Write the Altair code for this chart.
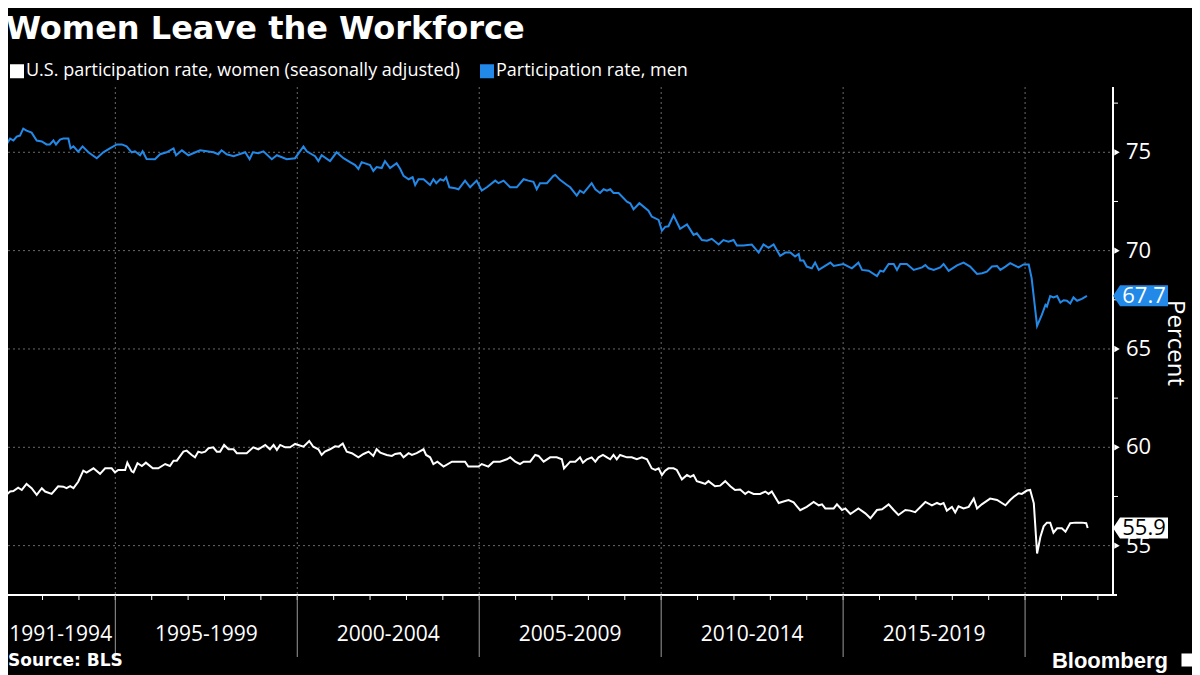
import altair as alt
import pandas as pd

# ---------------- data ----------------
men_year = [1991.83, 1992.01, 1992.11, 1992.20, 1992.29, 1992.38, 1992.47, 1992.56, 1992.70, 1992.84,
            1992.98, 1993.11, 1993.20, 1993.30, 1993.37, 1993.48, 1993.57, 1993.71, 1993.77, 1993.85,
            1993.98, 1994.10, 1994.26, 1994.49, 1994.67, 1994.85, 1995.04, 1995.18, 1995.31, 1995.45,
            1995.54, 1995.68, 1995.75, 1995.86, 1996.09, 1996.23, 1996.41, 1996.60, 1996.67, 1996.83,
            1997.01, 1997.33, 1997.70, 1997.83, 1997.92, 1998.06, 1998.25, 1998.57, 1998.69, 1998.78,
            1998.93, 1999.07, 1999.30, 1999.44, 1999.71, 1999.94, 2000.17, 2000.26, 2000.49, 2000.58,
            2000.67, 2000.90, 2001.08, 2001.27, 2001.45, 2001.59, 2001.68, 2001.77, 2002.00, 2002.09,
            2002.18, 2002.32, 2002.41, 2002.55, 2002.73, 2002.83,
            2002.92, 2003.06, 2003.17, 2003.24, 2003.33, 2003.47, 2003.65, 2003.74, 2003.82, 2003.93,
            2004.02, 2004.09, 2004.18, 2004.34, 2004.43, 2004.61, 2004.75, 2004.93, 2005.07, 2005.21,
            2005.44, 2005.53, 2005.67, 2005.85, 2006.03, 2006.22, 2006.35, 2006.49, 2006.58, 2006.67,
            2006.86, 2007.04, 2007.09, 2007.22, 2007.41, 2007.50, 2007.68, 2007.77, 2007.87, 2008.09,
            2008.19, 2008.32, 2008.42, 2008.51, 2008.60, 2008.69, 2008.83, 2009.06, 2009.15, 2009.24,
            2009.40, 2009.65, 2009.74, 2009.93, 2010.02, 2010.11, 2010.20, 2010.34, 2010.52, 2010.71,
            2010.89, 2010.98, 2011.12, 2011.26, 2011.39, 2011.58, 2011.71, 2011.85, 2011.99, 2012.08,
            2012.26, 2012.49, 2012.68, 2012.81, 2012.95, 2013.09, 2013.27, 2013.41, 2013.55, 2013.68,
            2013.78, 2013.82,
            2013.91, 2014.00, 2014.14, 2014.23, 2014.33, 2014.65, 2014.74, 2015.01, 2015.24, 2015.42,
            2015.52, 2015.70, 2015.93, 2016.02, 2016.11, 2016.25, 2016.39, 2016.48, 2016.57, 2016.75,
            2016.94, 2017.17, 2017.26, 2017.35, 2017.49, 2017.67, 2017.76, 2017.90, 2018.13, 2018.31,
            2018.49, 2018.68, 2018.82, 2018.95, 2019.09, 2019.23, 2019.32, 2019.46, 2019.59, 2019.82,
            2019.96, 2020.10, 2020.18, 2020.33, 2020.46, 2020.56, 2020.60, 2020.69, 2020.78, 2020.88,
            2020.97, 2021.06, 2021.15, 2021.24, 2021.33, 2021.43, 2021.56, 2021.70]
men_val = [75.6, 75.4, 75.7, 75.6, 75.8, 75.85, 76.2, 76.1, 76.0, 75.6,
           75.55, 75.4, 75.4, 75.6, 75.4, 75.65, 75.7, 75.7, 75.2, 75.3,
           75.03, 75.3, 75.0, 74.7, 75.0, 75.2, 75.4, 75.4, 75.3, 75.0,
           75.05, 74.85, 75.05, 74.66, 74.65, 74.9, 75.0, 75.2, 74.85, 75.1,
           74.85, 75.1, 75.0, 74.9, 75.1, 74.9, 74.8, 75.0, 74.65, 75.0,
           74.95, 75.05, 74.65, 74.85, 74.65, 74.7, 75.3, 75.05, 74.8, 74.55,
           74.85, 74.55, 75.0, 74.7, 74.5, 74.35, 74.15, 74.5, 74.35, 74.05,
           74.25, 74.2, 74.55, 74.2, 74.45, 74.15,
           73.8, 73.63, 73.73, 73.34, 73.63, 73.63, 73.34, 73.63, 73.43, 73.63,
           73.56, 73.73, 73.22, 73.17, 73.12, 73.56, 73.22, 73.56, 73.05, 73.22,
           73.56, 73.43, 73.56, 73.22, 73.22, 73.63, 73.56, 73.5, 73.12, 73.43,
           73.43, 73.8, 73.85, 73.6, 73.34, 73.22, 72.8, 73.05, 72.93, 73.43,
           73.12, 72.93, 73.12, 73.05, 73.12, 72.93, 72.93, 72.49, 72.41, 72.1,
           72.41, 72.03, 71.73, 71.56, 71.01, 71.21, 71.24, 71.79, 71.11, 71.33,
           70.8, 70.88, 70.54, 70.5, 70.6, 70.31, 70.54, 70.46, 70.54, 70.26,
           70.26, 70.31, 69.9, 70.31, 70.14, 70.31, 69.73, 69.9, 69.9, 69.7,
           69.83, 69.5,
           69.5, 69.19, 69.1, 69.39, 69.02, 69.39, 69.22, 69.32, 69.1, 69.39,
           69.02, 68.98, 68.71, 68.98, 68.93, 69.32, 69.32, 69.02, 69.32, 69.32,
           69.02, 69.15, 69.27, 69.1, 69.02, 69.15, 69.32, 68.97, 69.25, 69.39,
           69.19, 68.81, 68.85, 68.93, 69.19, 69.22, 69.02, 69.19, 69.36, 69.15,
           69.3, 69.29, 68.6, 66.17, 66.73, 67.24, 67.16, 67.69, 67.62, 67.69,
           67.36, 67.48, 67.45, 67.31, 67.62, 67.45, 67.55, 67.7]

women_year = [1991.83, 1991.97, 1992.11, 1992.20, 1992.33, 1992.43, 1992.56, 1992.70, 1992.84, 1992.98,
              1993.07, 1993.25, 1993.43, 1993.57, 1993.66, 1993.76, 1993.85, 1993.98, 1994.12, 1994.21,
              1994.40, 1994.58, 1994.72, 1994.90, 1994.99, 1995.08, 1995.27, 1995.33, 1995.45, 1995.50,
              1995.61, 1995.73, 1995.84, 1996.03, 1996.18, 1996.37, 1996.50, 1996.60, 1996.69, 1996.87,
              1996.96, 1997.10, 1997.19, 1997.28, 1997.37, 1997.47, 1997.56, 1997.69, 1997.79, 1997.88,
              1997.99, 1998.11, 1998.25, 1998.34, 1998.61, 1998.79, 1998.93, 1999.12, 1999.25, 1999.35,
              1999.44, 1999.53, 1999.67, 1999.80, 1999.94, 2000.17, 2000.33, 2000.44, 2000.58, 2000.67,
              2000.76, 2000.90, 2001.04, 2001.13, 2001.25, 2001.36, 2001.50, 2001.68, 2001.82, 2001.96,
              2002.09, 2002.18, 2002.28, 2002.46, 2002.60, 2002.69, 2002.83,
              2002.92, 2003.06, 2003.15, 2003.28, 2003.47, 2003.54, 2003.65, 2003.74, 2003.85, 2004.02,
              2004.25, 2004.43, 2004.61, 2004.70, 2004.98, 2005.07, 2005.25, 2005.39, 2005.57, 2005.76,
              2005.85, 2005.99, 2006.12, 2006.22, 2006.40, 2006.54, 2006.63, 2006.77, 2006.95, 2007.13,
              2007.27, 2007.33, 2007.50, 2007.64, 2007.77, 2007.85, 2007.96, 2008.09, 2008.19, 2008.28,
              2008.40, 2008.51, 2008.60, 2008.69, 2008.78, 2008.87, 2009.06, 2009.19, 2009.33, 2009.47,
              2009.61, 2009.74, 2009.84, 2009.93, 2010.02, 2010.11, 2010.20, 2010.34, 2010.43, 2010.57,
              2010.71, 2010.80, 2010.89, 2010.98, 2011.12, 2011.21, 2011.30, 2011.48, 2011.62, 2011.76,
              2011.90, 2012.03, 2012.17, 2012.31, 2012.40, 2012.54, 2012.72, 2012.86, 2012.95, 2013.04,
              2013.23, 2013.36, 2013.50, 2013.64, 2013.73, 2013.82,
              2014.00, 2014.19, 2014.33, 2014.42, 2014.51, 2014.74, 2014.83, 2014.97, 2015.06, 2015.20,
              2015.42, 2015.61, 2015.75, 2015.93, 2016.07, 2016.25, 2016.39, 2016.52, 2016.71, 2016.84,
              2016.98, 2017.26, 2017.44, 2017.58, 2017.67, 2017.76, 2017.85, 2017.99, 2018.08, 2018.17,
              2018.31, 2018.45, 2018.59, 2018.68, 2018.81, 2019.04, 2019.23, 2019.46, 2019.59, 2019.69,
              2019.82, 2019.91, 2020.05, 2020.14, 2020.24, 2020.33, 2020.42, 2020.51, 2020.60, 2020.69,
              2020.78, 2020.88, 2021.01, 2021.11, 2021.24, 2021.38, 2021.56, 2021.68, 2021.72]
women_val = [57.53, 57.53, 57.75, 57.78, 57.95, 57.83, 58.14, 57.92, 57.58, 57.92,
             57.75, 57.63, 58.02, 58.0, 57.92, 58.02, 57.92, 58.25, 58.81, 58.71,
             58.93, 58.65, 58.93, 58.93, 58.73, 58.85, 58.85, 59.22, 58.78, 58.73,
             59.19, 59.05, 59.22, 58.93, 58.93, 59.15, 59.05, 59.32, 59.32, 59.78,
             59.83, 59.61, 59.49, 59.78, 59.73, 59.78, 59.95, 60.0, 59.78, 59.78,
             60.12, 59.9, 59.9, 59.7, 59.7, 60.0, 59.9, 60.12, 59.9, 60.12,
             59.87, 60.12, 60.0, 60.0, 60.17, 60.03, 60.32, 60.03, 59.9, 59.61,
             59.78, 59.9, 60.05, 60.03, 60.19, 59.78, 59.7, 59.49, 59.66, 59.78,
             59.56, 59.9, 59.73, 59.61, 59.56, 59.66, 59.7,
             59.49, 59.7, 59.61, 59.7, 59.9, 59.61, 59.49, 59.15, 59.27, 59.02,
             59.27, 59.27, 59.27, 59.02, 59.02, 59.15, 59.02, 59.27, 59.27, 59.39,
             59.49, 59.27, 59.15, 59.27, 59.27, 59.61, 59.56, 59.27, 59.49, 59.49,
             59.39, 58.93, 59.27, 59.27, 59.49, 59.22, 59.39, 59.49, 59.27, 59.49,
             59.61, 59.49, 59.39, 59.61, 59.39, 59.61, 59.49, 59.49, 59.39, 59.49,
             59.39, 58.93, 58.85, 58.93, 58.59, 58.81, 58.93, 58.93, 58.85, 58.37,
             58.59, 58.5, 58.59, 58.28, 58.2, 58.14, 58.28, 58.02, 58.05, 58.28,
             58.02, 57.83, 57.85, 57.63, 57.75, 57.63, 57.63, 57.75, 57.63, 57.75,
             57.17, 57.24, 57.32, 57.2, 57.0, 56.8,
             56.97, 57.22, 57.05, 57.1, 56.89, 56.89, 57.1, 56.81, 56.89, 56.61,
             56.89, 56.64, 56.39, 56.81, 56.85, 57.1, 56.81, 56.56, 56.81, 56.78,
             56.7, 57.22, 57.05, 57.17, 57.1, 57.17, 56.78, 56.97, 56.69, 57.0,
             56.89, 56.97, 57.39, 56.89, 57.1, 57.39, 57.32, 57.05, 57.32, 57.49,
             57.66, 57.63, 57.8, 57.83, 57.15, 54.6, 55.44, 55.98, 56.17, 56.17,
             55.66, 55.88, 55.88, 55.71, 56.14, 56.17, 56.17, 56.14, 55.9]

period_labels = ["1991-1994", "1995-1999", "2000-2004", "2005-2009", "2010-2014", "2015-2019"]
period_mid = [1993.5, 1997.5, 2002.5, 2007.5, 2012.5, 2017.5]
period_bounds = [1995, 2000, 2005, 2010, 2015, 2020]
year_ticks = list(range(1992, 2023))
y_major = [55, 60, 65, 70, 75]
y_minor = [57.5, 62.5, 67.5, 72.5, 77.5]

WOMEN = "U.S. participation rate, women (seasonally adjusted)"
MEN = "Participation rate, men"
BLUE = "#2389e8"

# ---------------- layout ----------------
W, H = 1105, 508
X0, X1 = 1992.051, 2022.416
Y0, Y1 = 52.49, 78.32
FONT = "Open Sans"
GRID = "#6a6a6a"

df = pd.concat([
    pd.DataFrame({"year": women_year, "value": women_val, "series": WOMEN}),
    pd.DataFrame({"year": men_year, "value": men_val, "series": MEN}),
], ignore_index=True)

xs = alt.Scale(domain=[X0, X1], nice=False, zero=False)
ys = alt.Scale(domain=[Y0, Y1], nice=False, zero=False)

# horizontal dashed gridlines (y scale)
hgrid = alt.Chart(pd.DataFrame({"v": y_major})).mark_rule(
    color=GRID, strokeDash=[2, 3], strokeWidth=1
).encode(y=alt.Y("v:Q", scale=ys, axis=None), x=alt.value(0), x2=alt.value(W))

# vertical dashed gridlines at period boundaries (x scale)
vgrid = alt.Chart(pd.DataFrame({"year": period_bounds})).mark_rule(
    color=GRID, strokeDash=[2, 3], strokeWidth=1
).encode(x=alt.X("year:Q", scale=xs, axis=None), y=alt.value(0), y2=alt.value(H))

lines = alt.Chart(df).mark_line(strokeWidth=2, clip=True).encode(
    x=alt.X("year:Q", scale=xs, axis=None),
    y=alt.Y("value:Q", scale=ys, axis=None),
    color=alt.Color("series:N", scale=alt.Scale(domain=[WOMEN, MEN], range=["#ffffff", BLUE]),
                    legend=alt.Legend(title=None, orient="none", legendX=0, legendY=-25,
                                      direction="horizontal", symbolType="square", symbolSize=25,
                                      symbolStrokeWidth=9, labelColor="#ffffff", labelFontSize=18,
                                      labelFont=FONT, labelLimit=1000, columnPadding=6,
                                      labelOffset=0)),
)

# x axis: baseline, yearly ticks, period separators and labels
x_base = alt.Chart(pd.DataFrame({"year": [X0]})).mark_rule(color="#ffffff", strokeWidth=2).encode(
    x=alt.value(0), x2=alt.value(W + 4), y=alt.value(H))
x_ticks = alt.Chart(pd.DataFrame({"year": year_ticks})).mark_rule(color="#ffffff", strokeWidth=1).encode(
    x=alt.X("year:Q", scale=xs, axis=None), y=alt.value(H), y2=alt.value(H + 5))
vbelow = alt.Chart(pd.DataFrame({"year": period_bounds})).mark_rule(
    color="#9a9a9a", strokeWidth=1
).encode(x=alt.X("year:Q", scale=xs, axis=None), y=alt.value(H), y2=alt.value(H + 62))
periods = alt.Chart(pd.DataFrame({"mid": period_mid, "label": period_labels})).mark_text(
    color="#ffffff", fontSize=21, font=FONT, baseline="middle", align="center"
).encode(x=alt.X("mid:Q", scale=xs, axis=None), y=alt.value(H + 40), text="label:N")

# y axis (right): line, pointer ticks, minor ticks, labels, title
y_base = alt.Chart(pd.DataFrame({"v": [Y0]})).mark_rule(color="#ffffff", strokeWidth=2).encode(
    x=alt.value(W), y=alt.value(0), y2=alt.value(H))
tri = alt.Chart(pd.DataFrame({"v": y_major})).mark_point(
    shape="triangle-right", filled=True, size=40, color="#ffffff", opacity=1
).encode(x=alt.value(W + 4), y=alt.Y("v:Q", scale=ys, axis=None))
minor = alt.Chart(pd.DataFrame({"v": y_minor})).mark_rule(color="#ffffff", strokeWidth=1).encode(
    x=alt.value(W), x2=alt.value(W + 5), y=alt.Y("v:Q", scale=ys, axis=None))
y_labels = alt.Chart(pd.DataFrame({"v": y_major})).mark_text(
    color="#ffffff", fontSize=22, font=FONT, align="left", baseline="middle"
).encode(x=alt.value(W + 13), y=alt.Y("v:Q", scale=ys, axis=None), text=alt.Text("v:Q", format="d"))
y_title = alt.Chart(pd.DataFrame({"t": ["Percent"]})).mark_text(
    color="#ffffff", fontSize=24, font=FONT, angle=90, align="center", baseline="middle"
).encode(x=alt.value(W + 62), y=alt.value(256), text="t:N")

BOX = "M -1 0 L -0.745 -0.382 L 1 -0.382 L 1 0.382 L -0.745 0.382 Z"


def end_label(val, fill, tcolor):
    d = pd.DataFrame({"v": [val], "t": [f"{val:.1f}"]})
    box = alt.Chart(d).mark_point(shape=BOX, filled=True, size=3025, color=fill, opacity=1,
                                  strokeWidth=0).encode(
        x=alt.value(W + 27.5), y=alt.Y("v:Q", scale=ys, axis=None))
    txt = alt.Chart(d).mark_text(color=tcolor, fontSize=22, font=FONT, align="center",
                                 baseline="middle").encode(
        x=alt.value(W + 31), y=alt.Y("v:Q", scale=ys, axis=None), text="t:N")
    return [box, txt]


men_end = end_label(men_val[-1], BLUE, "#ffffff")
women_end = end_label(women_val[-1], "#ffffff", "#000000")

source = alt.Chart(pd.DataFrame({"t": ["Source: BLS"]})).mark_text(
    color="#ffffff", fontSize=17, font="DejaVu Sans", fontWeight="bold", align="left", baseline="middle"
).encode(x=alt.value(0), y=alt.value(H + 66), text="t:N")

brand = alt.Chart(pd.DataFrame({"t": ["Bloomberg"]})).mark_text(
    color="#ffffff", fontSize=22, font="Liberation Sans", fontWeight="bold", align="right",
    baseline="middle"
).encode(x=alt.value(W + 55), y=alt.value(H + 66), text="t:N")

icon = alt.Chart(pd.DataFrame({"t": ["Bloomberg"]})).mark_point(
    shape="square", filled=True, size=170, color="#ffffff", opacity=1
).encode(x=alt.value(W + 75), y=alt.value(H + 65))

chart = alt.layer(
    hgrid, vgrid, lines, x_base, x_ticks, vbelow, periods, y_base, minor, tri, y_labels, y_title,
    *men_end, *women_end, source, brand, icon
).properties(
    width=W, height=H,
    title=alt.TitleParams("Women Leave the Workforce", anchor="start", fontSize=32, font="DejaVu Sans",
                          fontWeight="bold", color="#ffffff", offset=16),
    padding={"left": 0, "top": 79, "right": 79, "bottom": 80},
    autosize=alt.AutoSizeParams(type="none"),
).configure(background="#000000").configure_view(stroke=None)

chart.save("out.html", embed_options={"renderer": "svg", "actions": False})
